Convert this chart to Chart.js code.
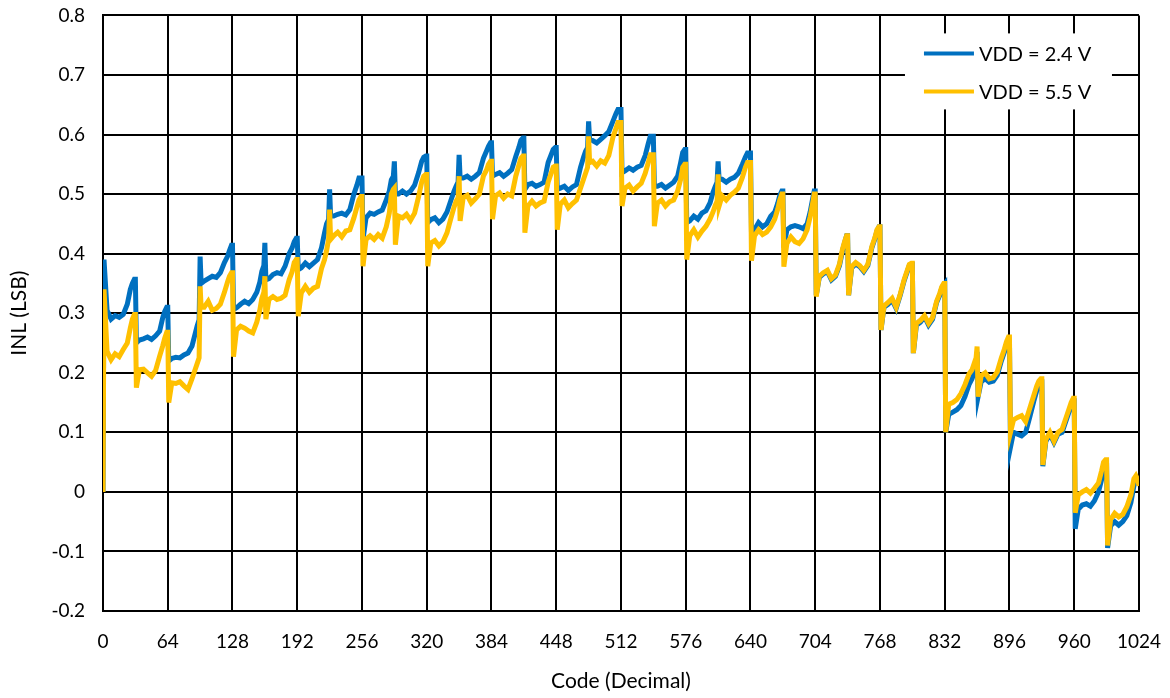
<!DOCTYPE html>
<html>
<head>
<meta charset="utf-8">
<script src="https://cdn.jsdelivr.net/npm/chart.js@4"></script>
<style>
  html, body { margin: 0; padding: 0; background: #fff; }
  #wrap { width: 1170px; height: 698px; overflow: hidden; position: relative; }
  #myChart { position: absolute; left: 0; top: -14px; }
</style>
</head>
<body>
<div id="wrap"><canvas id="myChart" width="1180" height="712"></canvas></div>
<script>
// codes sampled along the transfer curve (one row per 32-code segment)
const codes = [
  0,1,4,8,12,16,20,24,27,29,31,
  32,33,36,40,44,48,52,56,59,61,63,
  64,65,68,72,76,80,84,88,91,93,95,
  96,97,100,104,108,112,116,120,123,125,127,
  128,129,132,136,140,144,148,152,155,157,159,
  160,161,164,168,172,176,180,184,187,189,191,
  192,193,196,200,204,208,212,216,219,221,223,
  224,225,228,232,236,240,244,248,251,253,255,
  256,257,260,264,268,272,276,280,283,285,287,
  288,289,292,296,300,304,308,312,315,317,319,
  320,321,324,328,332,336,340,344,347,349,351,
  352,353,356,360,364,368,372,376,379,381,383,
  384,385,388,392,396,400,404,408,411,413,415,
  416,417,420,424,428,432,436,440,443,445,447,
  448,449,452,456,460,464,468,472,475,477,479,
  480,481,484,488,492,496,500,504,507,509,511,
  512,513,516,520,524,528,532,536,539,541,543,
  544,545,548,552,556,560,564,568,571,573,575,
  576,577,580,584,588,592,596,600,603,605,607,
  608,609,612,616,620,624,628,632,635,637,639,
  640,641,644,648,652,656,660,664,667,669,671,
  672,673,676,680,684,688,692,696,699,701,703,
  704,705,708,712,716,720,724,728,731,733,735,
  736,737,740,744,748,752,756,760,763,765,767,
  768,769,772,776,780,784,788,792,795,797,799,
  800,801,804,808,812,816,820,824,827,829,831,
  832,833,836,840,844,848,852,856,859,861,863,
  864,865,868,872,876,880,884,888,891,893,895,
  896,897,900,904,908,912,916,920,923,925,927,
  928,929,932,936,940,944,948,952,955,957,959,
  960,961,964,968,972,976,980,984,987,989,991,
  992,993,996,1000,1004,1008,1012,1016,1019,1021,1023,
  1024
];

// INL (LSB) at VDD = 2.4 V
const inl24 = [
  0,0.39,0.305,0.29,0.296,0.293,0.298,0.315,0.34,0.35,0.357,
  0.357,0.25,0.255,0.257,0.26,0.256,0.262,0.27,0.292,0.303,0.31,
  0.31,0.22,0.224,0.226,0.225,0.23,0.233,0.245,0.265,0.278,0.289,
  0.395,0.35,0.354,0.358,0.362,0.36,0.368,0.385,0.395,0.405,0.414,
  0.414,0.306,0.309,0.315,0.32,0.316,0.323,0.335,0.352,0.37,0.38,
  0.418,0.356,0.358,0.365,0.368,0.366,0.379,0.4,0.41,0.42,0.426,
  0.426,0.373,0.376,0.384,0.378,0.384,0.39,0.41,0.435,0.45,0.457,
  0.508,0.463,0.463,0.466,0.468,0.465,0.474,0.5,0.515,0.527,0.527,
  0.527,0.424,0.46,0.468,0.466,0.47,0.473,0.49,0.505,0.524,0.53,
  0.555,0.5,0.5,0.505,0.5,0.505,0.515,0.536,0.555,0.562,0.564,
  0.564,0.452,0.457,0.46,0.452,0.458,0.47,0.49,0.505,0.513,0.52,
  0.566,0.527,0.527,0.53,0.525,0.53,0.536,0.56,0.572,0.58,0.586,
  0.586,0.53,0.533,0.536,0.53,0.535,0.541,0.563,0.578,0.59,0.594,
  0.594,0.508,0.516,0.518,0.513,0.516,0.52,0.553,0.566,0.575,0.578,
  0.578,0.508,0.51,0.513,0.506,0.512,0.516,0.545,0.562,0.572,0.578,
  0.622,0.592,0.59,0.586,0.592,0.598,0.605,0.622,0.635,0.642,0.642,
  0.642,0.536,0.539,0.544,0.54,0.545,0.548,0.565,0.585,0.597,0.597,
  0.597,0.513,0.513,0.516,0.51,0.515,0.52,0.53,0.553,0.57,0.575,
  0.575,0.452,0.455,0.463,0.458,0.468,0.472,0.485,0.503,0.512,0.52,
  0.555,0.525,0.525,0.52,0.525,0.528,0.535,0.55,0.562,0.569,0.569,
  0.569,0.435,0.44,0.452,0.445,0.45,0.463,0.47,0.485,0.498,0.505,
  0.505,0.41,0.44,0.445,0.447,0.445,0.442,0.45,0.47,0.488,0.505,
  0.505,0.33,0.36,0.366,0.37,0.356,0.362,0.38,0.405,0.418,0.43,
  0.43,0.33,0.376,0.383,0.378,0.37,0.38,0.41,0.425,0.438,0.445,
  0.445,0.272,0.31,0.315,0.322,0.308,0.33,0.355,0.37,0.38,0.382,
  0.382,0.233,0.28,0.285,0.294,0.28,0.29,0.318,0.33,0.342,0.348,
  0.35,0.1,0.13,0.134,0.138,0.145,0.16,0.18,0.19,0.2,0.21,
  0.235,0.16,0.185,0.19,0.184,0.186,0.196,0.22,0.235,0.248,0.255,
  0.255,0.075,0.1,0.097,0.094,0.1,0.125,0.152,0.17,0.18,0.185,
  0.185,0.043,0.085,0.097,0.083,0.097,0.1,0.12,0.135,0.146,0.153,
  0.153,-0.062,-0.029,-0.022,-0.02,-0.024,-0.015,0,0.02,0.038,0.045,
  0.045,-0.094,-0.057,-0.05,-0.056,-0.05,-0.04,-0.018,0.01,0.02,0.018,
  0.012
];

// INL (LSB) at VDD = 5.5 V
const inl55 = [
  0,0.34,0.236,0.222,0.232,0.227,0.239,0.25,0.275,0.29,0.298,
  0.298,0.175,0.205,0.206,0.2,0.194,0.204,0.228,0.245,0.258,0.268,
  0.268,0.15,0.183,0.182,0.185,0.178,0.172,0.19,0.205,0.215,0.225,
  0.345,0.31,0.31,0.32,0.305,0.308,0.315,0.335,0.352,0.362,0.368,
  0.368,0.227,0.272,0.278,0.275,0.27,0.267,0.285,0.305,0.325,0.335,
  0.362,0.29,0.323,0.328,0.323,0.325,0.33,0.356,0.37,0.385,0.39,
  0.39,0.295,0.334,0.345,0.335,0.342,0.345,0.375,0.39,0.405,0.424,
  0.474,0.424,0.43,0.436,0.428,0.438,0.44,0.46,0.478,0.49,0.496,
  0.496,0.379,0.424,0.43,0.424,0.432,0.426,0.445,0.468,0.5,0.508,
  0.51,0.415,0.463,0.46,0.466,0.456,0.468,0.496,0.52,0.53,0.533,
  0.533,0.379,0.418,0.422,0.413,0.42,0.435,0.46,0.478,0.488,0.494,
  0.53,0.455,0.494,0.498,0.485,0.492,0.5,0.53,0.54,0.55,0.555,
  0.555,0.458,0.497,0.502,0.493,0.5,0.497,0.53,0.548,0.56,0.564,
  0.564,0.435,0.48,0.488,0.48,0.485,0.488,0.52,0.535,0.545,0.547,
  0.547,0.44,0.483,0.49,0.477,0.484,0.49,0.51,0.525,0.535,0.545,
  0.597,0.553,0.555,0.547,0.556,0.552,0.565,0.595,0.61,0.62,0.62,
  0.62,0.48,0.51,0.515,0.505,0.512,0.518,0.535,0.553,0.566,0.566,
  0.566,0.446,0.485,0.49,0.48,0.487,0.49,0.505,0.525,0.545,0.55,
  0.55,0.39,0.43,0.44,0.428,0.438,0.446,0.458,0.47,0.48,0.488,
  0.533,0.48,0.497,0.49,0.498,0.503,0.51,0.528,0.545,0.553,0.553,
  0.553,0.388,0.43,0.44,0.432,0.436,0.445,0.458,0.475,0.49,0.5,
  0.5,0.378,0.417,0.428,0.42,0.417,0.425,0.44,0.462,0.48,0.5,
  0.5,0.328,0.362,0.368,0.372,0.358,0.364,0.383,0.408,0.42,0.43,
  0.43,0.33,0.378,0.385,0.38,0.372,0.382,0.412,0.427,0.44,0.445,
  0.445,0.272,0.312,0.318,0.325,0.31,0.332,0.357,0.372,0.382,0.384,
  0.384,0.233,0.283,0.288,0.296,0.283,0.293,0.32,0.333,0.344,0.35,
  0.35,0.1,0.147,0.15,0.155,0.165,0.18,0.198,0.205,0.215,0.225,
  0.244,0.16,0.195,0.2,0.19,0.192,0.202,0.225,0.24,0.252,0.26,
  0.26,0.1,0.121,0.125,0.128,0.118,0.14,0.162,0.178,0.186,0.19,
  0.19,0.045,0.088,0.1,0.085,0.1,0.105,0.125,0.14,0.15,0.157,
  0.157,-0.035,-0.005,0,0.004,-0.002,0.006,0.015,0.035,0.05,0.054,
  0.054,-0.09,-0.046,-0.036,-0.042,-0.038,-0.025,-0.005,0.022,0.027,0.02,
  0.01
];

const seriesLabels = ['VDD = 2.4 V', 'VDD = 5.5 V'];
const seriesColors = ['#0070C0', '#FFC000'];

const FONT = "Lato, 'Open Sans', sans-serif";

function toPoints(values) {
  return codes.map((c, i) => ({ x: c, y: values[i] }));
}

// draws the legend inside the plot, on a white patch over the grid
const insideLegend = {
  id: 'insideLegend',
  afterDraw(chart) {
    const ctx = chart.ctx;
    const area = chart.chartArea;
    const boxL = area.right - 234, boxT = area.top + 18;
    ctx.save();
    ctx.fillStyle = '#fff';
    ctx.fillRect(boxL, boxT, 207, 76);
    ctx.font = '20px ' + FONT;
    ctx.textBaseline = 'middle';
    seriesLabels.forEach((label, i) => {
      const y = boxT + 20 + i * 38;
      ctx.strokeStyle = seriesColors[i];
      ctx.lineWidth = 4;
      ctx.beginPath();
      ctx.moveTo(boxL + 19, y);
      ctx.lineTo(boxL + 69, y);
      ctx.stroke();
      ctx.fillStyle = '#000';
      ctx.fillText(label, boxL + 74, y + 1);
    });
    ctx.restore();
  }
};

const data = {
  datasets: [
    {
      label: seriesLabels[0],
      data: toPoints(inl24),
      borderColor: seriesColors[0],
      backgroundColor: seriesColors[0],
      borderWidth: 5,
      pointRadius: 0,
      tension: 0,
      order: 2
    },
    {
      label: seriesLabels[1],
      data: toPoints(inl55),
      borderColor: seriesColors[1],
      backgroundColor: seriesColors[1],
      borderWidth: 5,
      pointRadius: 0,
      tension: 0,
      order: 1
    }
  ]
};

const config = {
  type: 'line',
  data: data,
  options: {
    responsive: false,
    animation: false,
    layout: { padding: { top: 4, right: 10, left: 0, bottom: 0 } },
    plugins: {
      legend: { display: false },
      tooltip: { enabled: false }
    },
    scales: {
      x: {
        type: 'linear',
        min: 0,
        max: 1024,
        afterBuildTicks: (scale) => {
          scale.ticks = [];
          for (let v = 0; v <= 1024; v += 64) scale.ticks.push({ value: v });
        },
        grid: { color: '#000', lineWidth: 2, drawTicks: false },
        border: { color: '#000', width: 2 },
        ticks: {
          color: '#000',
          font: { family: FONT, size: 19 },
          padding: 19,
          maxRotation: 0,
          callback: (v) => String(v)
        },
        title: { display: true, text: 'Code (Decimal)', color: '#000', font: { family: FONT, size: 21 }, padding: { top: 6 } },
        afterFit: (scale) => { scale.height = 87; }
      },
      y: {
        min: -0.2,
        max: 0.8,
        ticks: {
          stepSize: 0.1,
          color: '#000',
          font: { family: FONT, size: 19 },
          padding: 18,
          callback: (v) => String(Math.round(v * 10) / 10)
        },
        grid: { color: '#000', lineWidth: 2, drawTicks: false },
        border: { color: '#000', width: 2 },
        title: { display: true, text: 'INL (LSB)', color: '#000', font: { family: FONT, size: 21 }, padding: { top: 7, bottom: 0 } },
        afterFit: (scale) => { scale.width = 103; }
      }
    }
  },
  plugins: [insideLegend]
};

let myChart = new Chart(document.getElementById('myChart'), config);
</script>
</body>
</html>
